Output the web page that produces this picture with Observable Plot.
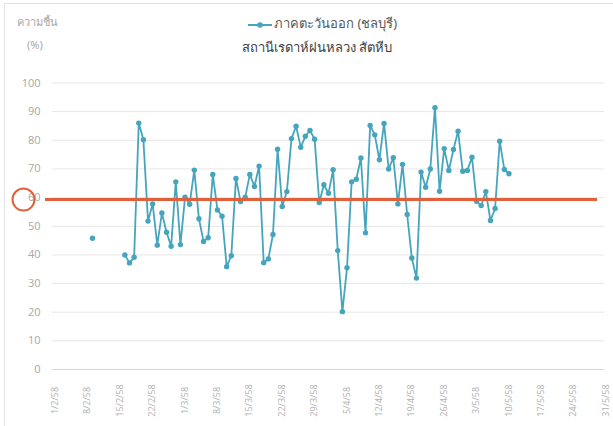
<!DOCTYPE html>
<html><head><meta charset="utf-8">
<script src="https://cdn.jsdelivr.net/npm/d3@7"></script>
<script src="https://cdn.jsdelivr.net/npm/@observablehq/plot@0.6"></script>
<style>
body{margin:0;background:#fff;font-family:"Noto Sans","DejaVu Sans",sans-serif;}
#wrap{position:relative;width:613px;height:426px;overflow:hidden;background:#fff;}
#border{position:absolute;left:4px;top:3px;width:700px;height:500px;border-top:1px solid #e4e4e4;border-left:1px solid #e4e4e4;pointer-events:none;}
#head{position:relative;height:62px;}
#head span{position:absolute;white-space:nowrap;}
.axt{color:#a8a8a8;font-size:11px;}
#leg{left:248px;top:13px;font-size:13px;color:#595959;}
#sub{left:242px;top:37px;font-size:13px;color:#404040;}
#chart svg{display:block;}
</style></head>
<body>
<div id="wrap">
  <div id="border"></div>
  <div id="head">
    <span class="axt" style="left:17px;top:13px;">ความชื้น</span>
    <span class="axt" style="left:27px;top:37px;">(%)</span>
    <span id="leg"><svg width="24" height="10" style="vertical-align:middle;margin-right:2px"><line x1="0" y1="5" x2="24" y2="5" stroke="#45a5bd" stroke-width="2"/><circle cx="12" cy="5" r="2.8" fill="#45a5bd"/></svg>ภาคตะวันออก (ชลบุรี)</span>
    <span id="sub">สถานีเรดาห์ฝนหลวง สัตหีบ</span>
  </div>
  <div id="chart"></div>
</div>
<script>
// --- data ---
const isolatedDates = ["2015-02-08"];
const isolatedValues = [45.8];
const seriesStart = "2015-02-15"; // consecutive daily readings from this date
const seriesValues = [
  40.0, 37.2, 39.2, 86.0, 80.2, 51.8, 57.8, 43.4, 54.6, 47.9,
  43.0, 65.5, 43.6, 60.1, 57.7, 69.6, 52.6, 44.7, 46.0, 68.1,
  55.7, 53.5, 35.9, 39.7, 66.7, 58.6, 60.1, 68.1, 63.9, 71.0,
  37.3, 38.6, 47.1, 76.9, 56.9, 62.1, 80.6, 84.9, 77.6, 81.4,
  83.4, 80.4, 58.3, 64.5, 61.5, 69.7, 41.5, 20.2, 35.5, 65.5,
  66.4, 73.8, 47.7, 85.2, 81.9, 73.2, 85.9, 70.0, 73.9, 57.8,
  71.6, 54.1, 38.9, 31.9, 68.9, 63.6, 70.0, 91.4, 62.2, 77.1,
  69.5, 76.8, 83.2, 69.2, 69.5, 74.1, 58.7, 57.2, 62.1, 52.0,
  56.2, 79.7, 69.8, 68.3
];
const xTickDates = ["2015-02-01","2015-02-08","2015-02-15","2015-02-22","2015-03-01","2015-03-08",
  "2015-03-15","2015-03-22","2015-03-29","2015-04-05","2015-04-12","2015-04-19",
  "2015-04-26","2015-05-03","2015-05-10","2015-05-17","2015-05-24","2015-05-31"];
const yTicks = [0,10,20,30,40,50,60,70,80,90,100];
const threshold = 59.3;

// --- build ---
const DAY = 86400000;
const startMs = Date.parse(seriesStart);
const series = seriesValues.map((v, i) => ({date: new Date(startMs + i * DAY), value: v}));
const isolated = isolatedDates.map((d, i) => ({date: new Date(d), value: isolatedValues[i]}));
const allPts = isolated.concat(series);
const ticks = xTickDates.map(d => new Date(d));
const fmt = d => `${d.getUTCDate()}/${d.getUTCMonth() + 1}/58`;
const teal = "#45a5bd", red = "#e0603c";

const chart = Plot.plot({
  width: 613,
  height: 364,
  marginTop: 20.5,
  marginBottom: 57,
  marginLeft: 52,
  marginRight: 0,
  style: {fontFamily: "'Open Sans','Noto Sans',sans-serif", background: "transparent"},
  x: {type: "utc", domain: [new Date(Date.UTC(2015,0,30,8,40)), new Date(Date.UTC(2015,4,31,14))], axis: null},
  y: {domain: [0, 100], axis: null},
  marks: [
    Plot.ruleY(yTicks, {stroke: d => d === 0 ? "#d4d4d4" : "#e6e6e6", insetRight: 9}),
    Plot.axisY(yTicks, {tickSize: 0, tickPadding: 12, color: "#a8a8a8", fontSize: 11, label: null}),
    Plot.text(ticks, {x: d => d, frameAnchor: "bottom", dx: -2, dy: 31, rotate: -90, text: fmt, textAnchor: "middle", fill: "#b0b0b0", fontSize: 9}),
    Plot.line(series, {x: "date", y: "value", stroke: teal, strokeWidth: 1.8}),
    Plot.dot(allPts, {x: "date", y: "value", r: 2.7, fill: teal}),
    Plot.ruleY([threshold], {stroke: red, strokeWidth: 3, insetLeft: -7, insetRight: 16}),
    Plot.dot([threshold], {y: d => d, frameAnchor: "left", dx: -29, r: 11, stroke: red, strokeWidth: 2, fill: "none"})
  ]
});
document.getElementById("chart").appendChild(chart);
</script>
</body></html>
